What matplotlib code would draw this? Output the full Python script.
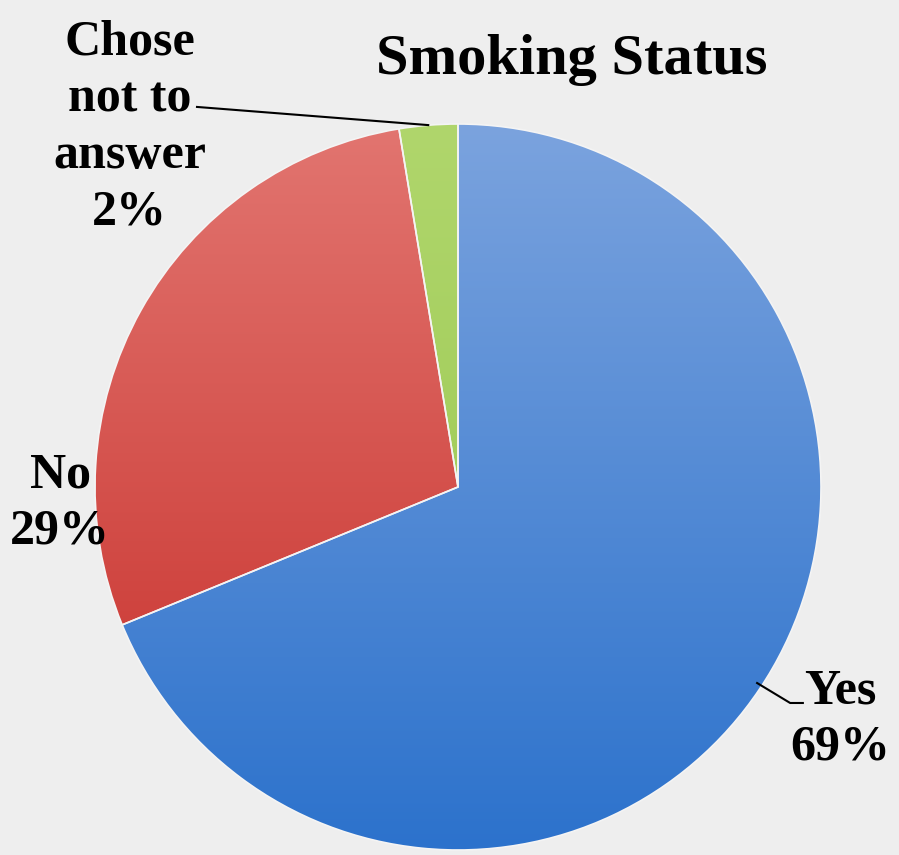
import numpy as np
import matplotlib.pyplot as plt
from matplotlib.colors import LinearSegmentedColormap

# Data (share of respondents, %)
categories = ["Yes", "No", "Chose\nnot to\nanswer"]
values = [68.8, 28.6, 2.6]
pct_labels = ["69%", "29%", "2%"]

# light (top) / dark (bottom) colours for each slice
top_colors = ["#7ba3de", "#e27570", "#b0d66c"]
bottom_colors = ["#2c72cc", "#c62c27", "#96c54c"]

plt.rcParams['font.family'] = ['Liberation Serif', 'DejaVu Serif']
plt.rcParams['font.weight'] = 'bold'

fig = plt.figure(figsize=(8.99, 8.55), dpi=100)
fig.patch.set_facecolor('#eeeeee')

# pie centre at (458, 487) px, radius ~363 px
cx, cy, r = 458 / 899, 1 - 487 / 855, 363
ax = fig.add_axes([cx - r / 899, cy - r / 855, 2 * r / 899, 2 * r / 855])
ax.set_facecolor('none')

wedges, _ = ax.pie(values, startangle=90, counterclock=False,
                   wedgeprops=dict(linewidth=1.2, edgecolor='#f4f4f4'))
ax.set_aspect('equal')
ax.axis('off')

# vertical gradient fill clipped to each wedge
grad = np.linspace(1, 0, 256).reshape(-1, 1)
for w, c1, c2 in zip(wedges, top_colors, bottom_colors):
    w.set_facecolor('none')
    cmap = LinearSegmentedColormap.from_list('g', [c2, c1])
    im = ax.imshow(grad, cmap=cmap, extent=(-1, 1, -1, 1), origin='upper',
                   aspect='auto', zorder=0.5, vmin=0, vmax=1)
    im.set_clip_path(w)

ax.set_xlim(-1, 1)
ax.set_ylim(-1, 1)

# Title
fig.text(572 / 899, 1 - 60 / 855, "Smoking Status", ha='center', va='center',
         fontsize=42, fontweight='bold')

# Labels
txt_kw = dict(ha='center', va='center', fontsize=36, fontweight='bold',
              linespacing=1.3)
ax.text(1.052, -0.64, categories[0] + "\n" + pct_labels[0], **txt_kw)
ax.text(-1.096, -0.045, categories[1] + "\n" + pct_labels[1], **txt_kw)
ax.text(-0.904, 0.99, categories[2] + "\n" + pct_labels[2], **txt_kw)

# Leader lines
ax.plot([0.824, 0.915, 0.950], [-0.540, -0.595, -0.595], color='black',
        linewidth=1.5, clip_on=False)
ax.plot([-0.719, -0.082], [1.047, 0.997], color='black', linewidth=1.5,
        clip_on=False)

plt.savefig("out.png", dpi=100, facecolor=fig.get_facecolor())
